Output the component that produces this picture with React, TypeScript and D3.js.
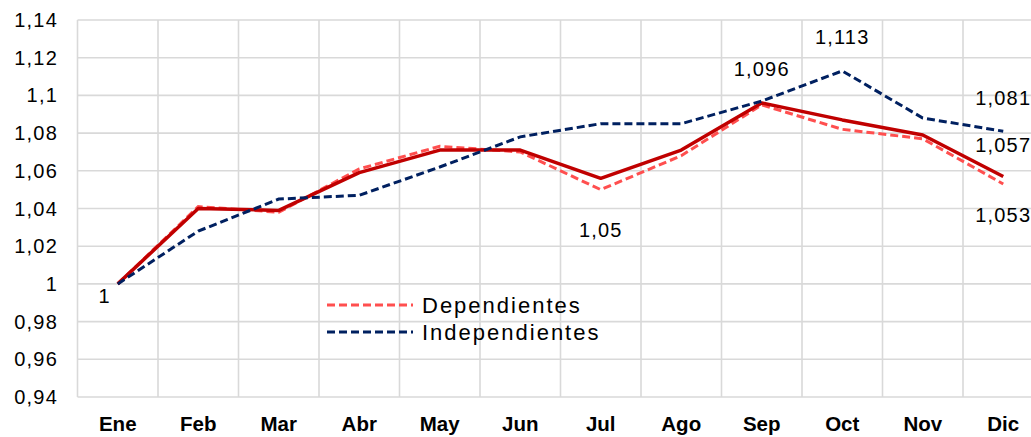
import React from "react";
import * as d3 from "d3";

const months = ["Ene", "Feb", "Mar", "Abr", "May", "Jun", "Jul", "Ago", "Sep", "Oct", "Nov", "Dic"];
const total = [1, 1.040, 1.039, 1.059, 1.071, 1.071, 1.056, 1.071, 1.096, 1.087, 1.079, 1.057];
const dependientes = [1, 1.041, 1.038, 1.061, 1.073, 1.070, 1.050, 1.068, 1.095, 1.082, 1.077, 1.053];
const independientes = [1, 1.028, 1.045, 1.047, 1.062, 1.078, 1.085, 1.085, 1.097, 1.113, 1.088, 1.081];
const yTicks = [0.94, 0.96, 0.98, 1, 1.02, 1.04, 1.06, 1.08, 1.1, 1.12, 1.14];
const legendNames = ["Dependientes", "Independientes"];

const W = 1031;
const H = 437;
const FONT = "'Liberation Sans', Arial, sans-serif";

const fmt = (v: number) => String(+v.toFixed(3)).replace(".", ",");

export default function App() {
  const x = d3.scaleBand<string>().domain(months).range([77.5, 1043.5]).padding(0);
  const cx = (m: string) => (x(m) as number) + x.bandwidth() / 2;
  const y = d3.scaleLinear().domain([0.94, 1.14]).range([397, 20]);
  const line = d3
    .line<number>()
    .x((_, i) => cx(months[i]))
    .y((d) => y(d));

  const boundaries = months.map((m) => x(m) as number).concat([(x("Dic") as number) + x.bandwidth()]);

  const labels: { s: number[]; i: number; dx: number; dy: number }[] = [
    { s: total, i: 0, dx: -13, dy: 19 },
    { s: dependientes, i: 6, dx: 0, dy: 47 },
    { s: total, i: 8, dx: 0, dy: -27 },
    { s: independientes, i: 9, dx: 0, dy: -27 },
    { s: independientes, i: 11, dx: 0, dy: -26 },
    { s: total, i: 11, dx: 0, dy: -24 },
    { s: dependientes, i: 11, dx: 0, dy: 38 },
  ];

  return (
    <svg
      width={W}
      height={H}
      style={{ position: "absolute", left: 0, top: 0, background: "#fff" }}
      fontFamily={FONT}
    >
      <rect x={0} y={0} width={W} height={H} fill="#fff" />
      {/* grid */}
      <g stroke="#d9d9d9" strokeWidth={1.6}>
        {yTicks.map((t) => (
          <line key={t} x1={77.5} x2={1043.5} y1={y(t)} y2={y(t)} />
        ))}
        {boundaries.map((b, i) => (
          <line key={i} x1={b} x2={b} y1={y(1.14)} y2={y(0.94)} />
        ))}
      </g>
      {/* y tick labels */}
      <g fontSize={20} fill="#000" textAnchor="end" letterSpacing={1.2}>
        {yTicks.map((t) => (
          <text key={t} x={58} y={y(t) + 7}>
            {fmt(t)}
          </text>
        ))}
      </g>
      {/* x labels */}
      <g fontSize={20.5} fontWeight="bold" fill="#000" textAnchor="middle">
        {months.map((m) => (
          <text key={m} x={cx(m)} y={431}>
            {m}
          </text>
        ))}
      </g>
      {/* series */}
      <path d={line(dependientes) || ""} fill="none" stroke="#ff4f4f" strokeWidth={3} strokeDasharray="8 4" />
      <path d={line(total) || ""} fill="none" stroke="#c00000" strokeWidth={3.5} strokeLinejoin="round" />
      <path d={line(independientes) || ""} fill="none" stroke="#002060" strokeWidth={3} strokeDasharray="8 4" />
      {/* data labels */}
      <g fontSize={20} fill="#000" textAnchor="middle" letterSpacing={1.2}>
        {labels.map((l, k) => (
          <text key={k} x={cx(months[l.i]) + l.dx} y={y(l.s[l.i]) + l.dy}>
            {fmt(l.s[l.i])}
          </text>
        ))}
      </g>
      {/* legend */}
      <g fontSize={22} fill="#000" letterSpacing={2}>
        {legendNames.map((n, i) => (
          <g key={n} transform={`translate(0, ${i * 27})`}>
            <line
              x1={327}
              x2={413}
              y1={305}
              y2={305}
              stroke={i === 0 ? "#ff4f4f" : "#002060"}
              strokeWidth={3}
              strokeDasharray="8 4"
            />
            <text x={422} y={313}>
              {n}
            </text>
          </g>
        ))}
      </g>
    </svg>
  );
}
